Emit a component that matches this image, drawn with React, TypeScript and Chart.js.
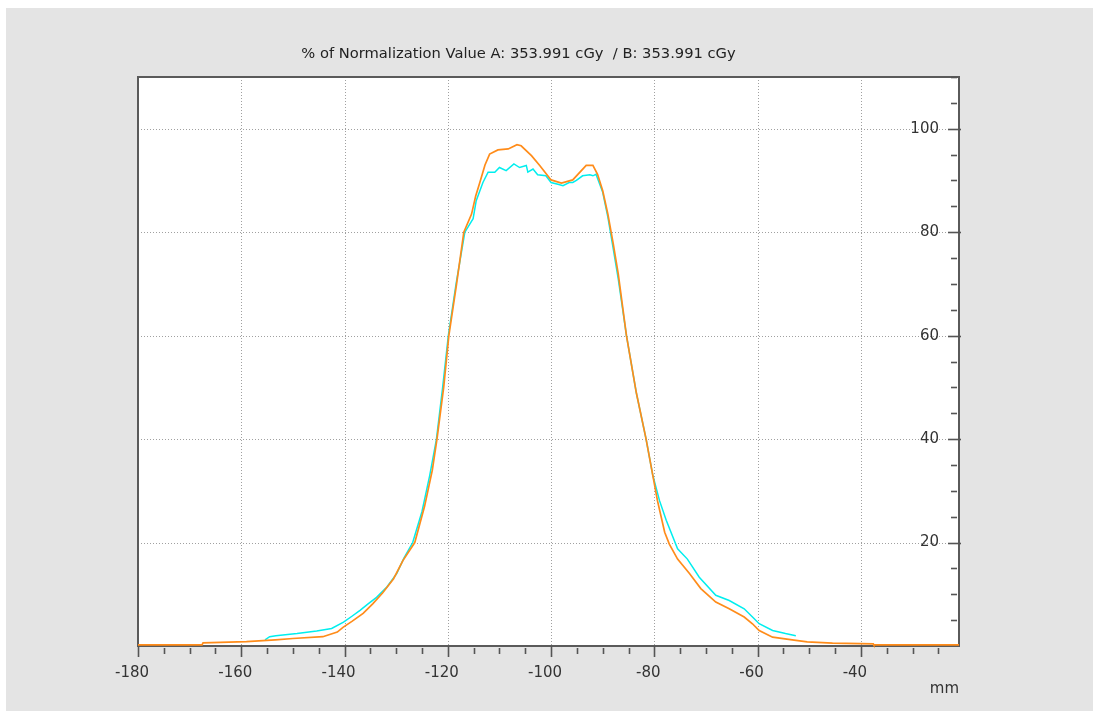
import React, { useEffect, useRef } from 'react';
import { Chart, registerables } from 'chart.js';

Chart.register(...registerables);

const TITLE = '% of Normalization Value A: 353.991 cGy  / B: 353.991 cGy';
const X_UNIT = 'mm';
const X_MIN = -180;
const X_MAX = -21;
const Y_MIN = 0;
const Y_MAX = 110;
const X_TICKS = [-180, -160, -140, -120, -100, -80, -60, -40];
const Y_TICKS = [20, 40, 60, 80, 100];
const MINOR_STEP = 5;

// Series A (orange)
const A_X = [
  -180, -167.6, -167.4, -159, -153.4, -150, -144.2, -141.4, -140.3, -138.5,
  -136.4, -134.5, -132.6, -130.5, -128.7, -126.4, -124.5, -123, -122.1, -120.8,
  -119.8, -118.3, -116.9, -115.4, -114.6, -113.8, -112.8, -111.9, -110.3, -108.3,
  -106.6, -105.8, -103.8, -102.2, -100, -98, -95.8, -93.2, -91.9, -91,
  -90, -89, -88, -87, -85.4, -83.5, -81.6, -80.3, -79.4, -78,
  -77.1, -75.5, -73.2, -71, -68.1, -65.5, -62.6, -61, -59.7, -57.1,
  -53.3, -50.4, -45.5, -37.6, -37.5, -21,
];
const A_Y = [
  0.2, 0.2, 0.6, 0.85, 1.2, 1.45, 1.8, 2.7, 3.6, 4.8,
  6.3, 8.2, 10.3, 13, 16.5, 20, 27, 34, 40, 50,
  60, 70, 80, 83.5, 87, 89.6, 93, 95.1, 95.9, 96.1,
  96.9, 96.7, 94.8, 92.9, 90.1, 89.5, 90.1, 92.9, 92.9, 91.2,
  88, 83.5, 78, 72, 60, 49, 40, 33, 28.1, 22,
  19.7, 16.8, 14, 11.1, 8.5, 7.2, 5.6, 4.3, 3.0, 1.7,
  1.2, 0.8, 0.55, 0.4, 0.2, 0.2,
];

// Series B (cyan)
const B_X = [
  -155.4, -154.5, -153.3, -149.2, -145.4, -142.5, -140.2, -138.5, -137, -135.5,
  -133.8, -131.8, -129.9, -128.5, -126.8, -125, -123.5, -122.2, -121, -119.9,
  -118.4, -116.7, -115.1, -114.5, -113.2, -112.2, -110.9, -110, -108.7, -107.2,
  -106.1, -104.8, -104.5, -103.5, -102.6, -101, -100, -98.5, -97.7, -96.5,
  -95.8, -95.1, -93.9, -92.5, -91.9, -91.3, -90, -89, -88, -87,
  -85.4, -83.5, -81.6, -80.3, -79, -77.7, -75.5, -73.6, -71.3, -68.1,
  -65.5, -62.6, -60.7, -59.7, -57.1, -54.6, -52.6,
];
const B_Y = [
  1.2, 1.8, 2.0, 2.4, 2.9, 3.4, 4.6, 5.8, 6.9, 8.1,
  9.4, 11.4, 14, 17, 20, 26, 33, 40, 50, 60,
  70, 80, 82.6, 86.1, 89.6, 91.6, 91.6, 92.5, 91.9, 93.2,
  92.5, 92.9, 91.6, 92.2, 91.1, 90.9, 89.6, 89.2, 89, 89.6,
  89.6, 90, 90.9, 91.1, 90.9, 91.2, 87.7, 82.9, 77, 71,
  60, 49, 40, 33, 28.1, 24.3, 18.8, 16.8, 13.3, 9.8,
  8.8, 7.2, 5.3, 4.3, 3.0, 2.4, 2.0,
];

const FONT = 'DejaVu Sans';

const framePlugin = {
  id: 'frame',
  beforeDraw(chart: any) {
    const { ctx, chartArea, width, height } = chart;
    const { left, top, right, bottom } = chartArea;
    const xs = chart.scales.x;
    const ys = chart.scales.y;
    ctx.save();
    ctx.fillStyle = '#e4e4e4';
    ctx.fillRect(0, 0, width, height);
    ctx.fillStyle = '#ffffff';
    ctx.fillRect(left, top, right - left, bottom - top);

    // dotted grid
    ctx.strokeStyle = '#a0a0a0';
    ctx.lineWidth = 1;
    ctx.setLineDash([1, 2]);
    for (const v of X_TICKS) {
      if (v <= X_MIN) continue;
      const px = Math.round(xs.getPixelForValue(v)) + 0.5;
      ctx.beginPath();
      ctx.moveTo(px, top);
      ctx.lineTo(px, bottom);
      ctx.stroke();
    }
    for (const v of Y_TICKS) {
      const py = Math.round(ys.getPixelForValue(v)) + 0.5;
      ctx.beginPath();
      ctx.moveTo(left, py);
      ctx.lineTo(right, py);
      ctx.stroke();
    }
    ctx.setLineDash([]);

    // frame
    ctx.strokeStyle = '#5a5a5a';
    ctx.lineWidth = 2;
    ctx.strokeRect(left, top, right - left, bottom - top);

    // tick marks
    ctx.lineWidth = 1.6;
    ctx.strokeStyle = '#555555';
    for (let v = X_MIN; v <= X_MAX; v += MINOR_STEP) {
      const px = Math.round(xs.getPixelForValue(v)) + 0.5;
      const major = X_TICKS.includes(v);
      ctx.beginPath();
      ctx.moveTo(px, major ? bottom : bottom + 2);
      ctx.lineTo(px, major ? bottom + 11 : bottom + 8);
      ctx.stroke();
    }
    for (let v = Y_MIN + MINOR_STEP; v <= Y_MAX; v += MINOR_STEP) {
      const py = Math.round(ys.getPixelForValue(v)) + 0.5;
      const major = Y_TICKS.includes(v);
      ctx.beginPath();
      ctx.moveTo(major ? right - 11 : right - 8, py);
      ctx.lineTo(major ? right + 2 : right - 2, py);
      ctx.stroke();
    }

    // title
    ctx.fillStyle = '#222222';
    ctx.font = `14.7px "${FONT}"`;
    ctx.textAlign = 'center';
    ctx.textBaseline = 'middle';
    ctx.fillText(TITLE, 512.5, 46.5);
    ctx.restore();
  },
};

export default function App() {
  const ref = useRef<HTMLCanvasElement | null>(null);
  useEffect(() => {
    if (!ref.current) return;
    const chart = new Chart(ref.current, {
      type: 'line',
      data: {
        datasets: [
          {
            label: 'A',
            data: A_X.map((x, i) => ({ x, y: A_Y[i] })),
            borderColor: '#ff8c1a',
            borderWidth: 1.7,
            pointRadius: 0,
            tension: 0,
            clip: 4,
          },
          {
            label: 'B',
            data: B_X.map((x, i) => ({ x, y: B_Y[i] })),
            borderColor: '#00eeee',
            borderWidth: 1.5,
            pointRadius: 0,
            tension: 0,
            clip: 4,
          },
        ],
      },
      options: {
        animation: false,
        responsive: false,
        layout: { padding: { left: 132, right: 124, top: 69, bottom: 5 } },
        plugins: {
          legend: { display: false },
          tooltip: { enabled: false },
          title: { display: false },
        },
        scales: {
          x: {
            type: 'linear',
            min: X_MIN,
            max: X_MAX,
            grid: { display: false },
            border: { display: false },
            afterBuildTicks: (s: any) => {
              s.ticks = X_TICKS.map((v) => ({ value: v }));
            },
            afterFit: (s: any) => {
              s.height = 60;
            },
            ticks: {
              font: { family: FONT, size: 15 },
              color: '#333333',
              padding: 10,
              labelOffset: -6,
              maxRotation: 0,
              autoSkip: false,
            },
            title: {
              display: true,
              text: X_UNIT,
              align: 'end',
              font: { family: FONT, size: 15 },
              color: '#333333',
              padding: { top: 0, bottom: 8 },
            },
          },
          y: {
            type: 'linear',
            position: 'right',
            min: Y_MIN,
            max: Y_MAX,
            grid: { display: false },
            border: { display: false },
            afterBuildTicks: (s: any) => {
              s.ticks = Y_TICKS.map((v) => ({ value: v }));
            },
            afterFit: (s: any) => {
              s.width = 10;
            },
            ticks: {
              mirror: true,
              padding: -20,
              font: { family: FONT, size: 15 },
              color: '#333333',
            },
          },
        },
      },
      plugins: [framePlugin],
    } as any);
    return () => chart.destroy();
  }, []);
  return (
    <div style={{ position: 'fixed', left: 6, top: 8, width: 1087, height: 703 }}>
      <canvas ref={ref} width={1087} height={703} style={{ display: 'block' }} />
    </div>
  );
}
